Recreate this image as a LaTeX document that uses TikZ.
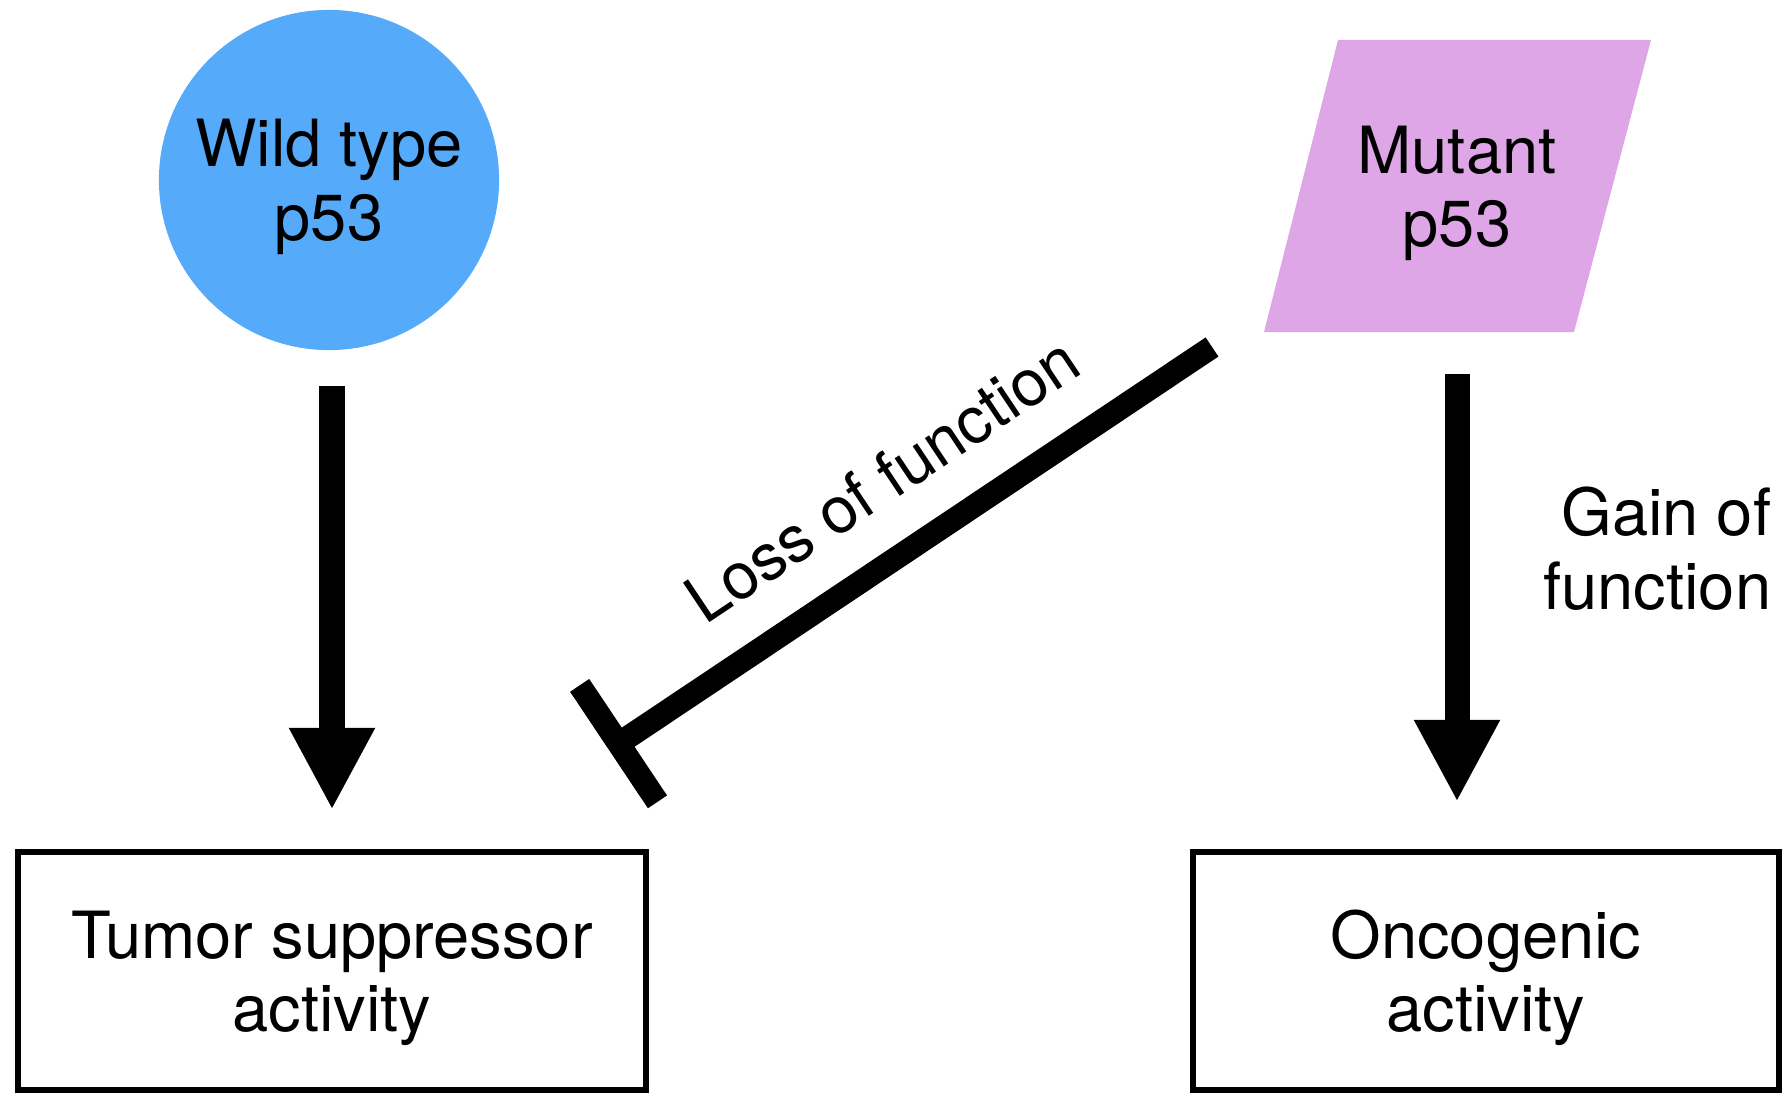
\documentclass[tikz,border=0pt]{standalone}
\usepackage{fontspec}
\setmainfont{TeX Gyre Heros}
\usepackage{tikz}
\usetikzlibrary{arrows.meta}
\usepackage{xcolor}
\definecolor{wtblue}{RGB}{86,170,250}
\definecolor{mutpink}{RGB}{222,166,230}
\newcommand{\capstrut}{\rule{0pt}{0.62cm}}

\begin{document}
\begin{tikzpicture}[x=0.01cm,y=-0.01cm]
  \tikzset{protnode/.style={inner sep=0pt,align=center,font=\fontsize{18.5pt}{21pt}\selectfont}}
  \tikzset{actbox/.style={draw=black,line width=0.06cm,minimum height=2.38cm,align=center,
                          font=\fontsize{18.5pt}{21pt}\selectfont}}
  \tikzset{fatarrow/.style={draw=black,line width=0.25cm,-{Triangle[width=0.8cm,length=0.82cm]}}}
  \tikzset{inhibedge/.style={draw=black,line width=0.23cm,{Bar[width=1.4cm]}-}}
  \tikzset{edgelabel/.style={font=\fontsize{18.5pt}{21pt}\selectfont,inner sep=0pt,text=black}}

  \useasboundingbox (0,0) rectangle (1785,1097);

  % parallelogram behind the mutant label
  \fill[mutpink] (1264,332) -- (1574,332) -- (1651,40) -- (1338,40) -- cycle;

  \node[protnode,circle,fill=wtblue,minimum size=3.4cm] (wt) at (329,180) {\capstrut Wild type\\p53};
  \node[protnode,minimum height=2.92cm,minimum width=3.1cm] (mut) at (1457,186) {\capstrut Mutant\\p53};
  \node[actbox,minimum width=6.27cm] (tsa) at (332,971) {\capstrut Tumor suppressor\\activity};
  \node[actbox,minimum width=5.85cm] (onc) at (1486,971) {\capstrut Oncogenic\\activity};

  \coordinate (lofbar) at (609,750);
  \coordinate (lofend) at (1212,347);

  \draw[fatarrow,shorten <=0.35cm,shorten >=0.39cm] (tsa.north |- wt.south) -- (tsa.north);
  \draw[fatarrow,shorten <=0.41cm,shorten >=0.47cm] (mut.south) -- (mut.south |- onc.north);
  \node[edgelabel,anchor=east,align=right] (goflbl) at (1772,549) {Gain of\\function};

  \draw[inhibedge] (lofbar) -- node[edgelabel,pos=0.52,sloped,above=0.37cm] (loflbl) {Loss of function} (lofend);
\end{tikzpicture}
\end{document}
